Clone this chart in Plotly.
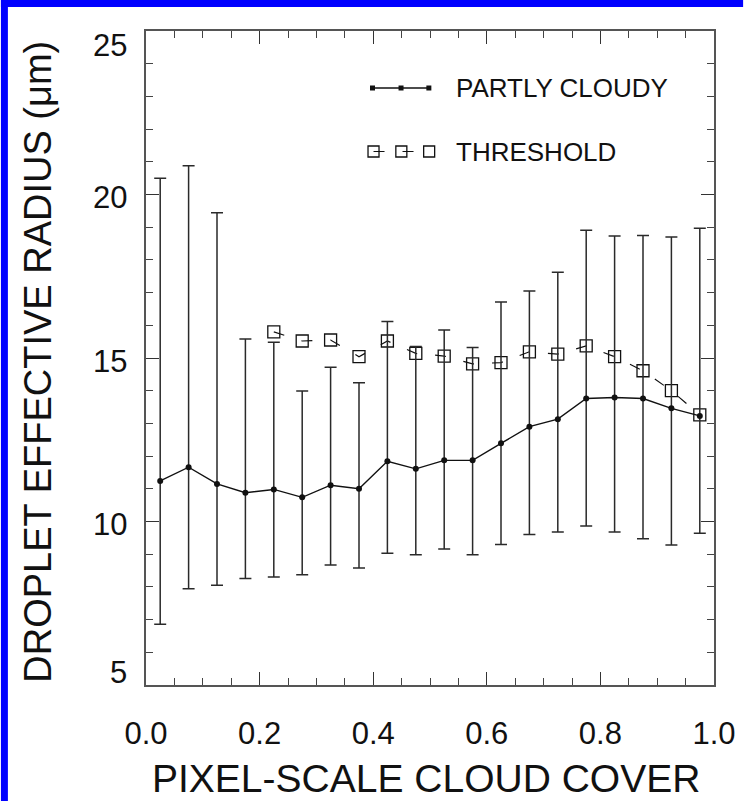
import plotly.graph_objects as go

# ---------------- data ----------------
cloud_cover = [0.025, 0.075, 0.125, 0.175, 0.225, 0.275, 0.325, 0.375, 0.425, 0.475,
               0.525, 0.575, 0.625, 0.675, 0.725, 0.775, 0.825, 0.875, 0.925, 0.975]
partly_cloudy = [11.24, 11.66, 11.15, 10.88, 10.98, 10.74, 11.11, 11.00, 11.84, 11.61,
                 11.87, 11.87, 12.39, 12.90, 13.13, 13.76, 13.79, 13.76, 13.46, 13.23]
err_upper = [20.50, 20.88, 19.44, 15.58, 15.48, 13.99, 14.72, 14.24, 16.12, 15.35,
             15.86, 15.32, 16.71, 17.05, 17.62, 18.91, 18.73, 18.75, 18.70, 18.97]
err_lower = [6.86, 7.94, 8.05, 8.26, 8.30, 8.37, 8.67, 8.58, 9.03, 8.98,
             9.16, 8.98, 9.30, 9.60, 9.68, 9.86, 9.68, 9.47, 9.28, 9.64]

threshold_x = [0.225, 0.275, 0.325, 0.375, 0.425, 0.475, 0.525, 0.575,
               0.625, 0.675, 0.725, 0.775, 0.825, 0.875, 0.925, 0.975]
threshold = [15.80, 15.52, 15.55, 15.04, 15.52, 15.14, 15.06, 14.82,
             14.86, 15.19, 15.12, 15.37, 15.04, 14.61, 14.00, 13.26]

x_ticks = [0.0, 0.2, 0.4, 0.6, 0.8, 1.0]
x_ticklabels = ["0.0", "0.2", "0.4", "0.6", "0.8", "1.0"]
y_ticks = [5, 10, 15, 20, 25]
y_ticklabels = ["5", "10", "15", "20", "25"]
legend_labels = ["PARTLY CLOUDY", "THRESHOLD"]

# ---------------- layout geometry (pixels) ----------------
W, H = 748, 801
L, R, T, B = 146, 717.7, 31, 685
FONT = "Liberation Sans, Arial, sans-serif"
INK = "#111111"

err_plus = [u - v for u, v in zip(err_upper, partly_cloudy)]
err_minus = [v - l for v, l in zip(partly_cloudy, err_lower)]

fig = go.Figure()

fig.add_trace(go.Scatter(
    x=threshold_x, y=threshold, mode="lines+markers",
    line=dict(color=INK, width=1.2, dash="11px,18px"),
    marker=dict(symbol="square-open", size=12, color=INK, line=dict(width=1.3)),
    showlegend=False,
))

fig.add_trace(go.Scatter(
    x=cloud_cover, y=partly_cloudy, mode="lines+markers",
    line=dict(color=INK, width=1.4),
    marker=dict(symbol="circle", size=6, color=INK),
    error_y=dict(type="data", symmetric=False, array=err_plus, arrayminus=err_minus,
                 color="#2a2a2a", thickness=1.5, width=6),
    showlegend=False,
))

# ---------- hand-drawn legend on an overlay axis in pixel units ----------
fig.add_trace(go.Scatter(
    x=[374, 402.7, 430.7], y=[88, 88, 88], xaxis="x2", yaxis="y2",
    mode="lines+markers", line=dict(color=INK, width=1.4),
    marker=dict(symbol="square", size=5, color=INK), showlegend=False,
    hoverinfo="skip",
))
fig.add_trace(go.Scatter(
    x=[375, 403, 431], y=[151.5, 151.5, 151.5], xaxis="x2", yaxis="y2",
    mode="lines+markers", line=dict(color=INK, width=1.2, dash="11px,18px"),
    marker=dict(symbol="square-open", size=11, color=INK, line=dict(width=1.3)),
    showlegend=False, hoverinfo="skip",
))

tick_font = dict(family=FONT, size=31, color=INK)
annotations = [
    dict(x=456, y=88, xref="x2", yref="y2", text=legend_labels[0], showarrow=False,
         xanchor="left", yanchor="middle", font=dict(family=FONT, size=26, color=INK)),
    dict(x=456, y=151.5, xref="x2", yref="y2", text=legend_labels[1], showarrow=False,
         xanchor="left", yanchor="middle", font=dict(family=FONT, size=26, color=INK)),
    dict(x=(427.5 - L) / (R - L), y=(B - 778) / (B - T), xref="paper", yref="paper",
         text="PIXEL-SCALE CLOUD COVER", showarrow=False, xanchor="center", yanchor="middle",
         font=dict(family=FONT, size=39, color=INK)),
    dict(x=(36.5 - L) / (R - L), y=(B - 361.5) / (B - T), xref="paper", yref="paper",
         text="DROPLET EFFECTIVE RADIUS (μm)", showarrow=False, textangle=-90,
         xanchor="center", yanchor="middle",
         font=dict(family=FONT, size=38, color=INK)),
]
# y tick labels as annotations so the end labels can sit inside the frame (IDL style)
for v, t in zip(y_ticks, y_ticklabels):
    if v == y_ticks[0]:
        shift = 13
    elif v == y_ticks[-1]:
        shift = -14
    else:
        shift = -3
    annotations.append(dict(x=0, y=v, xref="paper", yref="y", text=t, showarrow=False,
                            xanchor="right", yanchor="middle", xshift=-17, yshift=shift,
                            font=tick_font))

px2x = lambda p: (p - L) / (R - L)
px2y = lambda p: (B - p) / (B - T)
shapes = [
    dict(type="rect", xref="paper", yref="paper", x0=px2x(0), x1=px2x(7),
         y0=px2y(H), y1=px2y(0), fillcolor="#0000ff", line=dict(width=0), layer="above"),
    dict(type="rect", xref="paper", yref="paper", x0=px2x(0), x1=px2x(W - 1),
         y0=px2y(7), y1=px2y(0), fillcolor="#0000ff", line=dict(width=0), layer="above"),
]

axis_common = dict(
    showgrid=False, zeroline=False, showline=True, linecolor="#555555", linewidth=1.5,
    mirror="allticks", ticks="inside", ticklen=13, tickwidth=1.3, tickcolor="#333333",
    tickfont=tick_font,
)

fig.update_layout(
    width=W, height=H,
    margin=dict(l=L, r=W - R, t=T, b=H - B, pad=0),
    paper_bgcolor="white", plot_bgcolor="white",
    xaxis=dict(range=[0, 1], tickvals=x_ticks, ticktext=x_ticklabels,
               ticklabelstandoff=20,
               minor=dict(dtick=0.05, ticks="inside", ticklen=7, tickwidth=1.2,
                          tickcolor="#444444"),
               **axis_common),
    yaxis=dict(range=[5, 25], tickvals=y_ticks, showticklabels=False,
               minor=dict(dtick=1, ticks="inside", ticklen=7, tickwidth=1.2,
                          tickcolor="#444444"),
               **axis_common),
    xaxis2=dict(overlaying="x", anchor="y2", range=[L, R], visible=False, fixedrange=True),
    yaxis2=dict(overlaying="y", anchor="x2", range=[B, T], visible=False, fixedrange=True),
    annotations=annotations,
    shapes=shapes,
    showlegend=False,
)

fig.write_html("out.html")
